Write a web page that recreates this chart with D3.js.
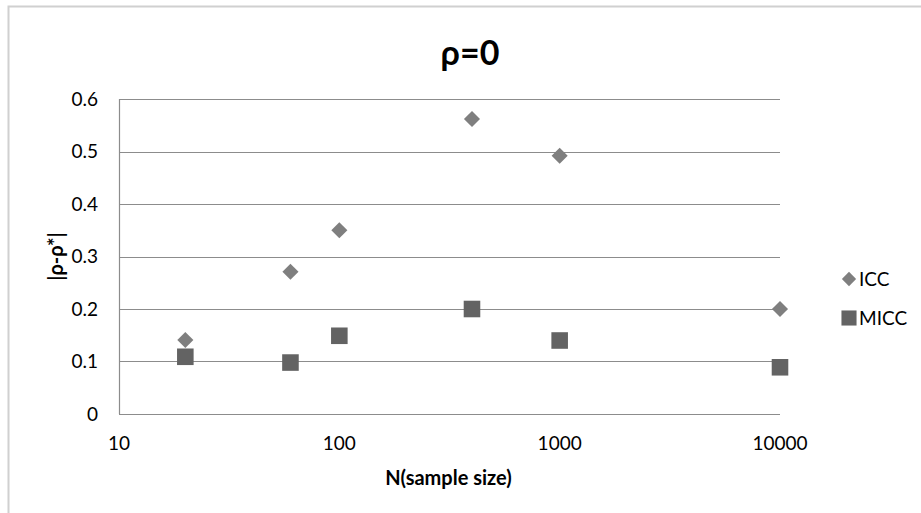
<!DOCTYPE html>
<html>
<head>
<meta charset="utf-8">
<script src="https://cdn.jsdelivr.net/npm/d3@7"></script>
<style>
  body { margin: 0; background: #fff; }
  svg { display: block; font-family: Lato, "Open Sans", sans-serif; }
</style>
</head>
<body>
<div class="chartDIV"></div>
<script>
// data
var sampleSizes = [20, 60, 100, 400, 1000, 10000],
    iccValues = [0.141, 0.271, 0.350, 0.562, 0.492, 0.200],
    miccValues = [0.109, 0.098, 0.149, 0.200, 0.140, 0.089],
    yTicks = [0, 0.1, 0.2, 0.3, 0.4, 0.5, 0.6],
    xTicks = [10, 100, 1000, 10000],
    seriesNames = ["ICC", "MICC"];

var width = 921,
    height = 513,
    plotLeft = 119, plotRight = 780, plotTop = 99, plotBottom = 414;

var svg = d3.select(".chartDIV").
    append("svg").
    attr("width", width).
    attr("height", height);

// outer chart frame (only top and left visible)
svg.append("path").
    attr("d", "M8.5,513V6.5H921").
    attr("fill", "none").
    attr("stroke", "#d0d0d0").
    attr("stroke-width", 2);

var x = d3.scaleLog().domain([10, 10000]).range([plotLeft, plotRight]),
    y = d3.scaleLinear().domain([0, 0.6]).range([plotBottom, plotTop]);

// gridlines
svg.append("g").
    selectAll("line").
    data(yTicks).
    enter().
    append("line").
    attr("x1", plotLeft).
    attr("x2", plotRight).
    attr("y1", function(d) { return Math.round(y(d)) + 0.5; }).
    attr("y2", function(d) { return Math.round(y(d)) + 0.5; }).
    attr("stroke", "#8c8c8c").
    attr("stroke-width", 1.2);

// left axis line
svg.append("line").
    attr("x1", plotLeft + 0.5).attr("x2", plotLeft + 0.5).
    attr("y1", plotTop).attr("y2", plotBottom).
    attr("stroke", "#8c8c8c").
    attr("stroke-width", 1.2);

// y tick labels
svg.append("g").
    selectAll("text").
    data(yTicks).
    enter().
    append("text").
    attr("x", 98).
    attr("y", function(d) { return y(d); }).
    attr("dy", "0.35em").
    attr("text-anchor", "end").
    style("font-size", "19px").
    attr("fill", "#000").
    text(function(d) { return d === 0 ? "0" : d3.format(".1f")(d); });

// x tick labels
svg.append("g").
    selectAll("text").
    data(xTicks).
    enter().
    append("text").
    attr("x", function(d) { return x(d); }).
    attr("y", 443).
    attr("dy", "0.35em").
    attr("text-anchor", "middle").
    style("font-size", "19px").
    attr("fill", "#000").
    text(function(d) { return d; });

// title
svg.append("text").
    attr("x", 470).
    attr("y", 65).
    attr("text-anchor", "middle").
    style("font-size", "34px").
    style("font-weight", "bold").
    text("ρ=0");

// axis titles
svg.append("text").
    attr("x", (plotLeft + plotRight) / 2 - 1).
    attr("y", 478).
    attr("dy", "0.35em").
    attr("text-anchor", "middle").
    style("font-size", "20px").
    style("font-weight", "bold").
    text("N(sample size)");

svg.append("text").
    attr("transform", "translate(56," + ((plotTop + plotBottom) / 2) + ") rotate(-90)").
    attr("dy", "0.35em").
    attr("text-anchor", "middle").
    style("font-size", "20px").
    style("font-weight", "bold").
    text("|ρ-ρ*|");

var diamond = d3.symbol().type(d3.symbolDiamond2).size(165),
    square = d3.symbol().type(d3.symbolSquare2).size(350);

var miccData = sampleSizes.map(function(n, i) { return {n: n, v: miccValues[i]}; }),
    iccData = sampleSizes.map(function(n, i) { return {n: n, v: iccValues[i]}; });

svg.append("g").
    selectAll("path").
    data(miccData).
    enter().
    append("path").
    attr("d", square).
    attr("transform", function(d) { return "translate(" + x(d.n) + "," + y(d.v) + ")"; }).
    attr("fill", "#636363");

svg.append("g").
    selectAll("path").
    data(iccData).
    enter().
    append("path").
    attr("d", diamond).
    attr("transform", function(d) { return "translate(" + x(d.n) + "," + y(d.v) + ")"; }).
    attr("fill", "#7f7f7f");

// legend
var legend = svg.append("g").attr("transform", "translate(849,279)");
legend.append("path").
    attr("d", d3.symbol().type(d3.symbolDiamond2).size(130)).
    attr("fill", "#7f7f7f");
legend.append("path").
    attr("d", d3.symbol().type(d3.symbolSquare2).size(290)).
    attr("transform", "translate(0,39)").
    attr("fill", "#636363");
legend.selectAll("text").
    data(seriesNames).
    enter().
    append("text").
    attr("x", 10).
    attr("y", function(d, i) { return i * 39; }).
    attr("dy", "0.35em").
    style("font-size", "19px").
    text(function(d) { return d; });
</script>
</body>
</html>
